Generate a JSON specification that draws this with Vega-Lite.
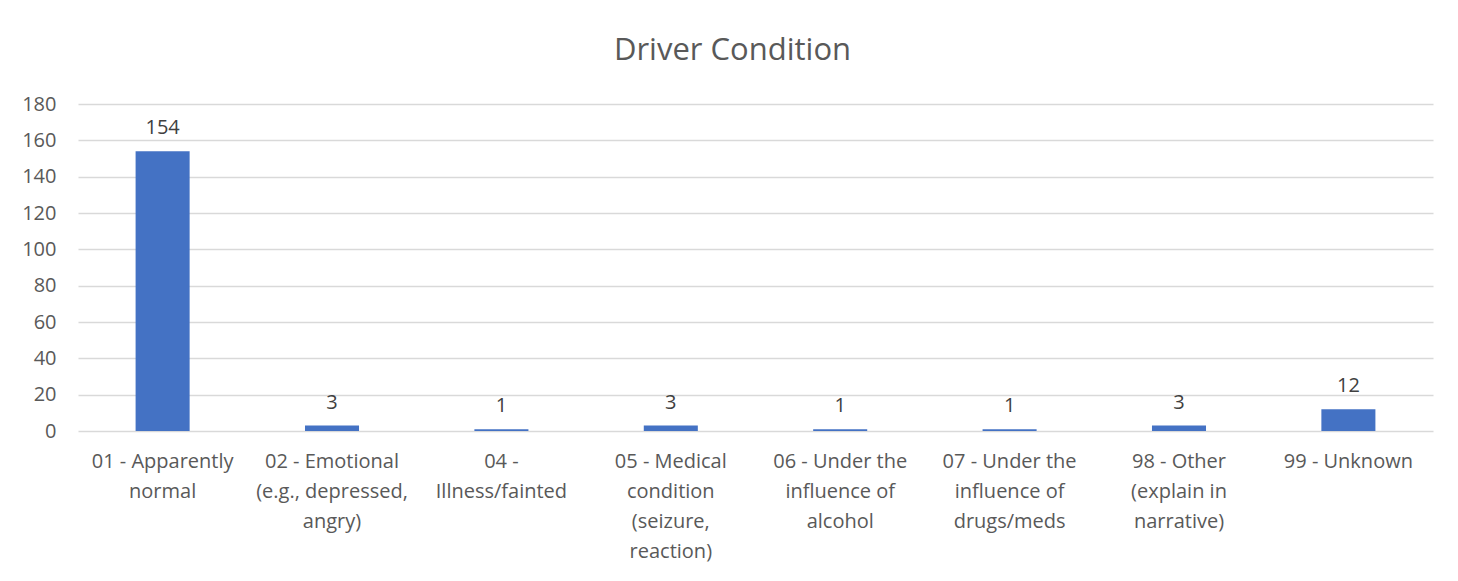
{
  "$schema": "https://vega.github.io/schema/vega-lite/v6.json",
  "width": 1355,
  "height": 327,
  "autosize": {"type": "none"},
  "padding": {"left": 78, "top": 104, "right": 25, "bottom": 150},
  "background": "white",
  "title": {
    "text": "Driver Condition",
    "font": "Open Sans",
    "fontSize": 31,
    "fontWeight": "normal",
    "color": "#595959",
    "anchor": "middle",
    "dx": -23,
    "offset": 27
  },
  "config": {
    "view": {"stroke": null},
    "font": "Open Sans"
  },
  "data": {
    "values": [
      {"category": "01 - Apparently|normal", "count": 154},
      {"category": "02 - Emotional|(e.g., depressed,|angry)", "count": 3},
      {"category": "04 -|Illness/fainted", "count": 1},
      {"category": "05 - Medical|condition|(seizure,|reaction)", "count": 3},
      {"category": "06 - Under the|influence of|alcohol", "count": 1},
      {"category": "07 - Under the|influence of|drugs/meds", "count": 1},
      {"category": "98 - Other|(explain in|narrative)", "count": 3},
      {"category": "99 - Unknown", "count": 12}
    ]
  },
  "encoding": {
    "x": {
      "field": "category",
      "type": "nominal",
      "sort": null,
      "scale": {"paddingInner": 0.681, "paddingOuter": 0.34},
      "axis": {
        "title": null,
        "labelAngle": 0,
        "labelExpr": "split(datum.label, '|')",
        "labelFont": "Open Sans",
        "labelFontSize": 20,
        "labelColor": "#595959",
        "labelLineHeight": 30,
        "labelPadding": 20,
        "ticks": false,
        "domain": false,
        "labelLimit": 0
      }
    },
    "y": {
      "field": "count",
      "type": "quantitative",
      "scale": {"domain": [0, 180], "nice": false},
      "axis": {
        "title": null,
        "values": [0, 20, 40, 60, 80, 100, 120, 140, 160, 180],
        "labelFont": "Open Sans",
        "labelFontSize": 20,
        "labelColor": "#595959",
        "labelPadding": 22,
        "ticks": false,
        "domain": false,
        "gridColor": "#d9d9d9",
        "gridWidth": 1.5
      }
    }
  },
  "layer": [
    {"mark": {"type": "bar", "color": "#4472C4"}},
    {
      "mark": {
        "type": "text",
        "baseline": "bottom",
        "dy": -13,
        "font": "Open Sans",
        "fontSize": 20,
        "color": "#404040"
      },
      "encoding": {"text": {"field": "count", "type": "quantitative"}}
    }
  ]
}
